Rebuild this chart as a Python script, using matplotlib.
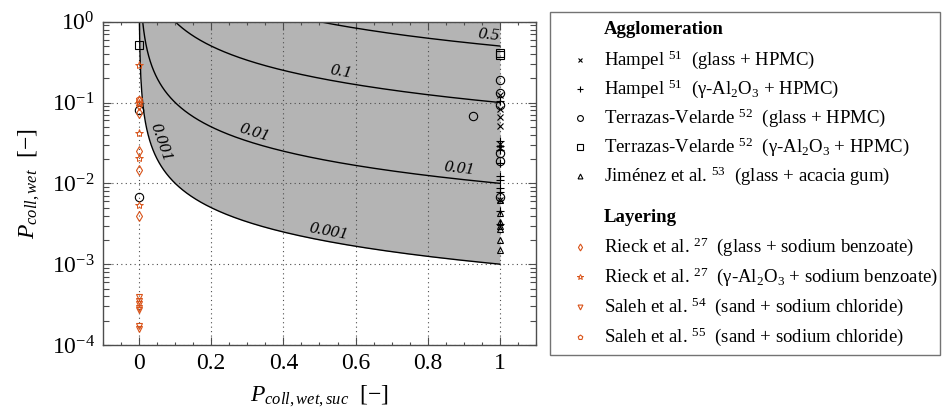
import numpy as np
import matplotlib
matplotlib.use("Agg")
import matplotlib.pyplot as plt
from matplotlib.lines import Line2D
from matplotlib.patches import Rectangle
from matplotlib.ticker import LogLocator, MultipleLocator, NullFormatter

plt.rcParams.update({
    "font.family": "serif",
    "font.serif": ["Liberation Serif", "DejaVu Serif"],
    "mathtext.fontset": "custom",
    "mathtext.rm": "Liberation Serif",
    "mathtext.it": "Liberation Serif:italic",
    "mathtext.bf": "Liberation Serif:bold",
})

ORANGE = "#D95319"

# Iso-lines of the overall collision probability P_coll,wet,suc * P_coll,wet
levels = [0.001, 0.01, 0.1, 0.5]
# where each iso-line is annotated (P_coll,wet,suc of the label)
level_label_x = {0.001: [0.034, 0.52], 0.01: [0.311, 0.883], 0.1: [0.553], 0.5: [0.967]}

# --- Agglomeration ---
hampel_glass_x = [1, 1, 1, 1, 1, 1, 1]
hampel_glass_y = [0.125, 0.082, 0.066, 0.051, 0.031, 0.027, 0.0062]

hampel_al_x = [1, 1, 1, 1, 1, 1, 1, 1, 1, 1, 1]
hampel_al_y = [0.105, 0.033, 0.029, 0.026, 0.018, 0.0125, 0.011, 0.0088, 0.0078, 0.0045, 0.0031]

terrazas_glass_x = [0, 0, 0.925, 1, 1, 1, 1, 1, 1]
terrazas_glass_y = [0.08, 0.0068, 0.068, 0.19, 0.13, 0.094, 0.024, 0.019, 0.0067]

terrazas_al_x = [0, 1, 1]
terrazas_al_y = [0.52, 0.41, 0.39]

jimenez_x = [1, 1, 1, 1, 1, 1, 1]
jimenez_y = [0.0063, 0.0043, 0.0033, 0.0030, 0.0027, 0.0020, 0.0015]

# --- Layering ---
rieck_glass_x = [0, 0, 0, 0, 0, 0]
rieck_glass_y = [0.105, 0.092, 0.075, 0.025, 0.0147, 0.0039]

rieck_al_x = [0, 0, 0, 0, 0]
rieck_al_y = [0.29, 0.098, 0.042, 0.0206, 0.0054]

saleh54_x = [0, 0, 0, 0, 0, 0, 0]
saleh54_y = [3.9e-4, 3.5e-4, 3.2e-4, 2.9e-4, 2.7e-4, 1.7e-4, 1.56e-4]

saleh55_x = [0]
saleh55_y = [0.11]

series = [
    ("Hampel $^{51}$  (glass + HPMC)", hampel_glass_x, hampel_glass_y,
     dict(marker="x", color="black", ms=4, mew=0.8)),
    ("Hampel $^{51}$  (γ-Al$_2$O$_3$ + HPMC)", hampel_al_x, hampel_al_y,
     dict(marker="+", color="black", ms=6, mew=0.8)),
    ("Terrazas-Velarde $^{52}$  (glass + HPMC)", terrazas_glass_x, terrazas_glass_y,
     dict(marker="o", color="black", mfc="none", ms=6, mew=0.8)),
    ("Terrazas-Velarde $^{52}$  (γ-Al$_2$O$_3$ + HPMC)", terrazas_al_x, terrazas_al_y,
     dict(marker="s", color="black", mfc="none", ms=6, mew=0.8)),
    ("Jiménez et al. $^{53}$  (glass + acacia gum)", jimenez_x, jimenez_y,
     dict(marker="^", color="black", mfc="none", ms=5, mew=0.8)),
    ("Rieck et al. $^{27}$  (glass + sodium benzoate)", rieck_glass_x, rieck_glass_y,
     dict(marker="d", color=ORANGE, mfc="none", ms=5, mew=0.8)),
    ("Rieck et al. $^{27}$  (γ-Al$_2$O$_3$ + sodium benzoate)", rieck_al_x, rieck_al_y,
     dict(marker="*", color=ORANGE, mfc="none", ms=6, mew=0.7)),
    ("Saleh et al. $^{54}$  (sand + sodium chloride)", saleh54_x, saleh54_y,
     dict(marker="v", color=ORANGE, mfc="none", ms=5, mew=0.8)),
    ("Saleh et al. $^{55}$  (sand + sodium chloride)", saleh55_x, saleh55_y,
     dict(marker="p", color=ORANGE, mfc="none", ms=5, mew=0.8)),
]

W, H = 945, 409
fig = plt.figure(figsize=(W / 100, H / 100), dpi=100)


def fx(px):
    return px / W


def fy(py):
    return 1 - py / H


ax = fig.add_axes([fx(103), fy(345), fx(536) - fx(103), fy(21.7) - fy(345)])
ax.set_xlim(-0.1, 1.1)
ax.set_yscale("log")
ax.set_ylim(1e-4, 1)

# shaded region above the lowest iso-line
xf = np.geomspace(levels[0], 1, 600)
ax.fill_between(xf, levels[0] / xf, 1, color="#b4b4b4", lw=0, zorder=1)

for c in levels:
    xs = np.geomspace(c, 1, 400)
    ax.plot(xs, c / xs, color="black", lw=1.0, zorder=2)

for _, xs, ys, st in series:
    ax.plot(xs, ys, ls="none", zorder=3, clip_on=False, **st)

ax.grid(True, which="major", color="0.3", ls=(0, (1, 3)), lw=0.8)
ax.set_xticks([0, 0.2, 0.4, 0.6, 0.8, 1])
ax.set_xticklabels(["0", "0.2", "0.4", "0.6", "0.8", "1"])
ax.xaxis.set_minor_locator(MultipleLocator(0.05))
ax.yaxis.set_major_locator(LogLocator(base=10, numticks=10))
ax.yaxis.set_minor_locator(LogLocator(base=10, subs=np.arange(2, 10), numticks=10))
ax.yaxis.set_minor_formatter(NullFormatter())
ax.tick_params(which="both", direction="in", top=True, right=True, color="0.3",
               labelsize=17)
ax.tick_params(which="major", length=6, width=0.8, pad=6)
ax.tick_params(which="minor", length=4, width=0.8)
ax.tick_params(axis="x", which="minor", length=2)
for sp in ax.spines.values():
    sp.set_color("0.3")
    sp.set_linewidth(1.0)

ax.set_xlabel("$P_{coll,wet,suc}$  [−]", fontsize=17, labelpad=7)
ax.set_ylabel("$P_{coll,wet}$  [−]", fontsize=17, labelpad=7)

# iso-line annotations, rotated along the curve
for c, xl in level_label_x.items():
    for x0 in xl:
        p1 = ax.transData.transform((x0 * 0.98, c / (x0 * 0.98)))
        p2 = ax.transData.transform((x0 * 1.02, c / (x0 * 1.02)))
        ang = np.degrees(np.arctan2(p2[1] - p1[1], p2[0] - p1[0]))
        nrm = np.radians(ang)
        off = 1.5
        ax.annotate(f"{c:g}", xy=(x0, c / x0),
                    xytext=(-off * np.sin(nrm), off * np.cos(nrm)), textcoords="offset points",
                    rotation=ang, rotation_mode="anchor", ha="center", va="bottom",
                    fontsize=12.5, style="italic", zorder=4)

# legend box with group headings
fig.add_artist(Rectangle((fx(550), fy(355)), fx(940) - fx(550), fy(12) - fy(355),
                         transform=fig.transFigure, fill=False, ec="0.45", lw=1.0))
rows = [29, 60, 88.5, 118, 147, 176, 217, 247, 277, 307, 337]
entries = [("Agglomeration", None)] + [(s[0], s[3]) for s in series[:5]] + \
          [("Layering", None)] + [(s[0], s[3]) for s in series[5:]]
for py, (lab, st) in zip(rows, entries):
    if st is None:
        fig.text(fx(604), fy(py + 5), lab, fontsize=13.5, fontweight="bold", va="baseline")
        continue
    st = dict(st)
    st["ms"] = st["ms"] * 0.7
    fig.add_artist(Line2D([fx(580)], [fy(py)], transform=fig.transFigure, ls="none", **st))
    fig.text(fx(604), fy(py + 5), lab, fontsize=13.5, va="baseline")

fig.savefig("out.png", dpi=100)
